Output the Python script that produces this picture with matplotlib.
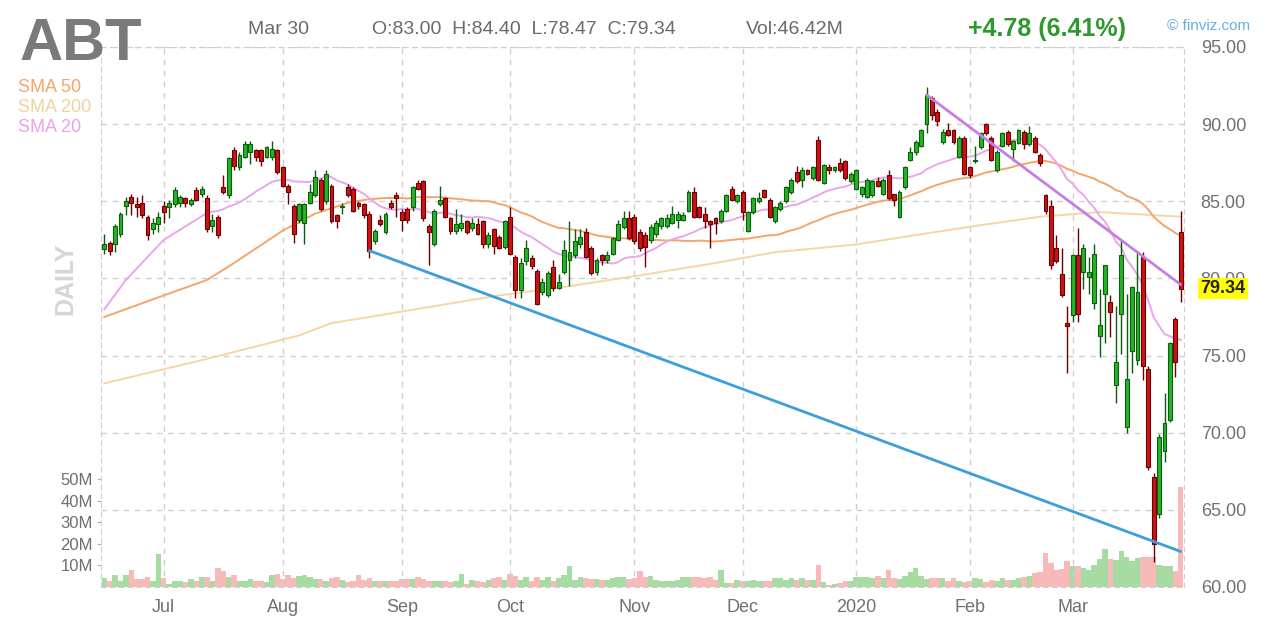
import numpy as np
import pandas as pd
import matplotlib
matplotlib.use('Agg')
import matplotlib.pyplot as plt
from matplotlib import font_manager

installed = {f.name for f in font_manager.fontManager.ttflist}
narrow = 'Liberation Sans Narrow' if 'Liberation Sans Narrow' in installed else 'Liberation Sans'
plt.rcParams['font.family'] = [narrow, 'DejaVu Sans']

# trading calendar Jun 14 2019 .. Mar 30 2020
holidays = ['2019-07-04', '2019-09-02', '2019-11-28', '2019-12-25',
            '2020-01-01', '2020-01-20', '2020-02-17']
dates = pd.bdate_range('2019-06-14', '2020-03-30', freq='C', holidays=holidays)

# daily OHLC
opens = [81.9, 82.3, 82.2, 82.9, 84.7, 85.3, 84.8, 84.9, 84.0, 83.2,
         83.5, 84.7, 84.6, 84.8, 84.9, 85.2, 84.8, 85.7, 85.5, 85.2,
         83.4, 84.0, 85.9, 85.4, 88.3, 87.2, 87.9, 88.2, 88.3, 88.3,
         87.9, 87.9, 88.3, 87.2, 86.0, 84.7, 83.8, 83.6, 84.9, 85.4,
         86.4, 85.0, 86.0, 84.1, 84.6, 85.9, 85.8, 84.9, 84.8, 84.2,
         82.4, 83.8, 83.0, 84.9, 85.4, 84.3, 84.5, 84.6, 86.2, 86.3,
         83.4, 82.2, 84.8, 85.2, 83.9, 83.1, 83.3, 83.7, 83.3, 83.5,
         83.7, 82.2, 83.2, 82.7, 82.05, 84.0, 81.4, 79.25, 81.1, 81.3,
         80.5, 79.1, 78.9, 80.75, 79.4, 80.4, 81.2, 81.5, 82.2, 83.0,
         82.0, 80.4, 81.5, 81.2, 81.6, 82.5, 83.35, 83.9, 84.0, 83.0,
         82.8, 82.5, 82.9, 83.4, 83.4, 83.6, 83.8, 83.8, 84.4, 85.6,
         84.6, 84.2, 83.7, 83.9, 83.7, 84.4, 85.8, 85.0, 85.6, 83.1,
         84.3, 85.0, 85.7, 85.1, 83.7, 84.5, 85.0, 85.6, 86.9, 86.4,
         87.0, 86.5, 88.97, 86.2, 87.2, 87.0, 87.5, 87.6, 86.3, 85.8,
         85.5, 85.3, 85.4, 86.3, 85.5, 86.7, 85.45, 84.0, 85.95, 87.7,
         88.2, 88.6, 90.0, 91.7, 90.8, 88.86, 89.6, 89.6, 87.9, 89.1,
         87.2, 87.6, 88.5, 90.0, 89.1, 87.0, 88.6, 89.5, 88.4, 88.8,
         89.5, 88.7, 89.1, 88.0, 85.4, 84.7, 82.0, 80.3, 77.1, 77.6,
         81.5, 80.4, 80.1, 78.4, 76.3, 79.0, 78.5, 73.1, 77.7, 70.4,
         75.3, 74.7, 81.4, 74.1, 67.1, 64.7, 68.8, 70.85, 77.4, 83.0]
highs = [82.9, 82.4, 83.5, 84.3, 85.3, 85.5, 85.3, 85.4, 84.1, 83.9,
         84.3, 85.0, 85.1, 85.9, 85.4, 85.3, 85.2, 85.9, 86.0, 85.4,
         84.2, 84.1, 86.7, 87.9, 88.5, 88.2, 88.9, 88.9, 88.4, 88.4,
         88.6, 88.9, 88.4, 87.3, 86.1, 84.8, 84.9, 84.9, 86.1, 87.0,
         86.5, 87.0, 86.1, 84.2, 84.9, 86.1, 85.9, 85.0, 84.9, 84.4,
         83.2, 84.1, 84.3, 85.1, 85.6, 84.5, 84.6, 86.0, 86.4, 86.4,
         83.5, 84.5, 86.0, 85.3, 84.0, 84.5, 84.2, 83.8, 83.9, 83.9,
         83.8, 83.0, 83.3, 82.8, 83.8, 84.65, 81.5, 81.3, 82.5, 81.5,
         80.6, 80.0, 80.5, 81.2, 80.3, 82.5, 83.7, 83.2, 83.2, 83.3,
         82.1, 81.3, 81.6, 81.8, 82.7, 83.8, 84.4, 84.4, 84.2, 83.2,
         83.0, 83.5, 83.8, 84.0, 84.2, 84.7, 84.4, 84.3, 85.7, 85.9,
         84.7, 84.6, 83.8, 84.0, 84.5, 85.5, 86.0, 85.5, 85.7, 84.4,
         85.3, 85.6, 85.8, 85.2, 84.7, 85.0, 86.0, 86.5, 87.3, 87.2,
         87.1, 87.3, 89.2, 87.4, 87.4, 87.3, 87.8, 87.7, 86.9, 87.1,
         86.0, 86.5, 86.4, 86.6, 86.5, 87.0, 85.5, 85.7, 87.3, 88.5,
         89.0, 89.7, 92.4, 91.8, 91.0, 89.7, 90.1, 89.7, 89.2, 89.2,
         87.3, 88.6, 89.5, 90.1, 89.2, 88.3, 89.5, 89.6, 89.0, 89.7,
         89.6, 89.9, 89.2, 88.1, 85.5, 85.1, 82.8, 82.0, 78.2, 81.6,
         83.3, 82.2, 81.4, 82.2, 79.3, 80.9, 78.9, 78.2, 82.5, 79.0,
         79.5, 81.8, 81.7, 74.3, 67.4, 69.9, 72.6, 75.9, 77.5, 84.4]
lows = [81.6, 81.5, 81.7, 82.7, 84.1, 84.1, 84.0, 83.9, 82.5, 82.9,
        83.0, 83.6, 83.9, 84.6, 84.6, 84.6, 84.7, 85.0, 85.3, 83.0,
        83.0, 82.6, 85.5, 85.2, 87.0, 87.0, 87.8, 87.4, 87.6, 87.3,
        87.8, 87.7, 86.8, 85.9, 84.8, 82.3, 83.6, 82.2, 84.8, 85.3,
        84.4, 84.8, 83.6, 83.3, 84.2, 85.3, 84.3, 84.5, 83.9, 81.3,
        82.2, 83.4, 82.9, 84.5, 84.0, 83.1, 83.6, 84.4, 85.7, 83.7,
        80.9, 82.1, 84.7, 83.9, 82.9, 82.9, 83.1, 82.9, 83.1, 82.8,
        82.0, 82.0, 81.6, 81.9, 81.9, 81.5, 78.7, 78.7, 80.9, 80.6,
        78.3, 78.9, 78.8, 79.2, 79.3, 80.3, 79.5, 81.3, 82.0, 81.3,
        80.2, 80.2, 80.9, 81.0, 81.5, 82.4, 83.2, 82.5, 82.2, 81.8,
        80.75, 82.3, 82.7, 83.2, 83.3, 83.5, 83.3, 83.7, 84.3, 83.9,
        83.9, 83.3, 82.0, 82.9, 83.6, 84.3, 85.0, 84.9, 83.8, 83.0,
        84.2, 84.9, 85.2, 83.9, 83.6, 84.4, 84.9, 85.5, 86.2, 85.9,
        86.7, 86.4, 86.3, 86.1, 86.8, 86.9, 86.9, 86.4, 86.2, 85.7,
        85.3, 85.2, 85.3, 85.9, 85.4, 85.1, 84.7, 83.9, 85.8, 87.6,
        88.0, 88.5, 89.4, 90.3, 89.9, 88.7, 89.2, 88.7, 87.8, 86.7,
        86.5, 87.5, 88.4, 89.3, 87.6, 86.9, 88.5, 88.6, 87.6, 88.7,
        88.4, 88.6, 88.1, 87.3, 84.2, 80.6, 81.0, 78.8, 73.9, 77.2,
        77.2, 79.3, 79.0, 78.0, 74.9, 75.8, 76.2, 71.9, 75.1, 70.0,
        73.9, 74.4, 73.4, 67.6, 61.6, 64.5, 68.1, 70.7, 73.6, 78.47]
closes = [82.2, 81.8, 83.4, 84.2, 85.0, 84.9, 84.6, 84.1, 82.8, 83.6,
          84.0, 84.3, 84.9, 85.7, 85.3, 84.9, 85.1, 85.1, 85.8, 83.2,
          83.8, 82.8, 85.6, 87.8, 87.3, 88.0, 88.7, 88.7, 87.9, 87.6,
          88.5, 88.4, 86.9, 86.0, 85.6, 82.9, 84.8, 84.8, 85.6, 86.6,
          84.5, 86.8, 83.7, 83.7, 84.7, 85.4, 84.4, 84.7, 84.1, 81.8,
          83.1, 83.5, 84.2, 84.6, 85.2, 83.8, 83.8, 85.9, 85.8, 83.9,
          83.0, 84.4, 85.1, 84.0, 83.1, 83.5, 83.6, 83.0, 83.6, 82.9,
          82.2, 82.8, 82.1, 82.0, 83.7, 81.6, 79.25, 81.0, 82.0, 80.8,
          78.35, 79.8, 80.35, 79.4, 79.8, 81.85, 81.7, 82.4, 82.7, 81.4,
          80.35, 81.2, 81.2, 81.5, 82.6, 83.5, 83.9, 82.6, 82.4, 81.95,
          82.05, 83.35, 83.6, 83.9, 83.9, 84.2, 84.2, 84.1, 85.6, 84.0,
          84.0, 83.7, 83.5, 83.6, 84.4, 85.4, 85.1, 85.4, 84.3, 84.3,
          85.2, 85.2, 85.3, 84.0, 84.65, 84.9, 85.95, 86.4, 86.3, 87.0,
          86.8, 87.25, 86.4, 87.35, 87.0, 87.2, 87.0, 86.5, 86.8, 87.0,
          85.95, 86.4, 86.3, 86.0, 86.4, 85.2, 85.1, 85.6, 87.25, 88.2,
          88.86, 89.6, 91.9, 90.6, 90.2, 89.5, 89.3, 88.86, 89.1, 86.8,
          86.7, 87.7, 89.4, 89.4, 87.7, 88.2, 89.4, 88.7, 88.9, 89.6,
          88.7, 89.4, 88.2, 87.45, 84.4, 80.85, 81.1, 78.9, 76.9, 81.5,
          77.7, 82.0, 80.4, 81.6, 77.0, 80.85, 77.8, 74.6, 81.5, 73.5,
          79.45, 79.1, 74.3, 67.8, 62.8, 69.7, 70.6, 75.8, 74.56, 79.34]
volume_m = [4.2, 2.6, 5.4, 2.6, 5.4, 8.0, 3.7, 3.7, 4.6, 2.6,
            15.5, 4.2, 1.5, 2.9, 2.9, 2.2, 3.9, 2.9, 4.6, 4.6,
            2.9, 8.8, 7.3, 4.6, 5.4, 2.9, 2.9, 3.9, 2.9, 2.6,
            2.2, 5.4, 6.2, 3.7, 5.4, 4.2, 5.0, 5.4, 4.6, 3.7,
            3.9, 2.9, 4.2, 4.6, 3.4, 2.2, 2.9, 5.4, 3.4, 4.2,
            2.9, 2.9, 2.9, 2.9, 2.9, 3.9, 3.9, 3.9, 4.6, 3.9,
            2.9, 2.9, 2.9, 2.9, 2.2, 2.9, 6.2, 1.2, 3.4, 2.9,
            2.2, 3.4, 4.2, 4.6, 3.4, 5.8, 5.2, 3.4, 4.6, 2.9,
            4.6, 3.4, 4.6, 2.9, 4.2, 5.4, 9.7, 3.4, 4.6, 4.2,
            3.7, 3.7, 3.4, 3.4, 4.2, 4.6, 4.6, 3.9, 4.2, 7.3,
            4.5, 5.0, 3.4, 3.0, 3.0, 3.0, 3.2, 4.5, 4.5, 4.5,
            4.5, 4.2, 4.5, 3.4, 8.1, 2.0, 1.8, 3.4, 2.9, 3.0,
            3.4, 3.0, 3.0, 3.0, 4.2, 4.2, 3.4, 4.0, 3.4, 4.0,
            3.4, 3.4, 10.4, 2.5, 0.8, 1.5, 2.0, 3.0, 3.0, 4.5,
            4.5, 4.8, 4.2, 5.0, 4.0, 8.1, 4.0, 3.8, 5.0, 6.8,
            8.8, 5.0, 3.6, 4.0, 4.2, 4.2, 3.0, 4.0, 3.0, 2.5,
            3.0, 4.0, 3.8, 2.4, 3.4, 3.0, 4.0, 3.3, 3.3, 4.3,
            4.5, 5.2, 6.5, 7.0, 15.8, 11.0, 8.1, 8.5, 12.0, 9.5,
            9.5, 9.0, 8.0, 10.4, 13.0, 17.4, 12.8, 12.3, 16.6, 14.0,
            12.0, 13.5, 14.0, 14.0, 14.0, 10.0, 9.5, 9.8, 7.3, 46.42]

# moving averages before enough closes exist on the chart
sma20_early_dates = ['2019-06-14', '2019-06-20', '2019-07-01']
sma20_early_vals = [78.0, 79.9, 82.5]
sma50_early_dates = ['2019-06-14', '2019-07-01', '2019-07-12', '2019-07-19', '2019-08-01',
                     '2019-08-09', '2019-08-19']
sma50_early_vals = [77.5, 78.9, 79.9, 81.0, 83.1, 84.2, 84.9]
sma200_dates = ['2019-06-14', '2019-07-11', '2019-08-06', '2019-08-14', '2019-08-23',
                '2019-09-11', '2019-09-27', '2019-10-16', '2019-11-04', '2019-11-22',
                '2019-12-10', '2020-01-02', '2020-01-15', '2020-02-03', '2020-02-21',
                '2020-03-09', '2020-03-30']
sma200_vals = [73.2, 74.7, 76.3, 77.1, 77.5, 78.2, 78.9, 79.5, 80.2, 81.0,
               81.7, 82.2, 82.7, 83.35, 84.0, 84.3, 84.0]

# drawn trend lines (date, price)
blue_line = [('2019-08-23', 81.8), ('2020-03-30', 62.3)]
purple_line = [('2020-01-22', 91.9), ('2020-03-30', 79.6)]

price_ticks = [60, 65, 70, 75, 80, 85, 90, 95]
vol_ticks = [10, 20, 30, 40, 50]

# ---------------------------------------------------------------
pos = {d: i for i, d in enumerate(dates)}


def idx(d):
    return pos[pd.Timestamp(d)]


x = np.arange(len(dates))
o = np.array(opens)
h = np.array(highs)
l = np.array(lows)
c = np.array(closes)
up = c >= o
close_s = pd.Series(closes)

W, H = 1274, 631
fig = plt.figure(figsize=(W / 100, H / 100), dpi=100)
rect = [101 / W, 1 - 587 / H, 1083 / W, 540 / H]

grid_c = '#cfcfcf'
dash = (0, (4, 4))

# volume panel underneath
axv = fig.add_axes(rect, zorder=1)
axv.bar(x, volume_m, width=1.0, color=np.where(up, '#a6dba2', '#f8b9b9'), linewidth=0)
axv.set_ylim(0, 250)
axv.set_xlim(-0.6, 199.6)
axv.set_yticks(vol_ticks)
axv.set_yticklabels([f'{v}M' for v in vol_ticks])
axv.tick_params(axis='y', length=3, color='#b0b0b0', labelsize=12, labelcolor='#6e6e6e', pad=3)
axv.set_xticks([])
for s in axv.spines.values():
    s.set_visible(False)

# price panel
ax = fig.add_axes(rect, zorder=2)
ax.patch.set_alpha(0)
ax.set_xlim(-0.6, 199.6)
ax.set_ylim(60, 95)

month_starts = [dates.get_loc(dates[dates >= pd.Timestamp(m)][0]) for m in
                ['2019-07-01', '2019-08-01', '2019-09-01', '2019-10-01', '2019-11-01',
                 '2019-12-01', '2020-01-01', '2020-02-01', '2020-03-01']]
month_labels = ['Jul', 'Aug', 'Sep', 'Oct', 'Nov', 'Dec', '2020', 'Feb', 'Mar']
ax.set_xticks(month_starts)
ax.set_xticklabels(month_labels)
ax.set_yticks(price_ticks)
ax.set_yticklabels([f'{p:.2f}' for p in price_ticks])
ax.yaxis.tick_right()
ax.tick_params(axis='both', length=0, labelsize=13, labelcolor='#707070')
ax.tick_params(axis='x', pad=9)
ax.tick_params(axis='y', pad=12)
ax.grid(True, color=grid_c, linestyle=dash, linewidth=1)
for s in ax.spines.values():
    s.set_color(grid_c)
    s.set_linestyle(dash)
ax.set_axisbelow(True)

# moving averages: read values where the window is not yet full, rolling mean after
sma20 = close_s.rolling(20).mean()
sma50 = close_s.rolling(50).mean()
sma20_x = [idx(d) for d in sma20_early_dates] + list(x[19:])
sma20_y = sma20_early_vals + list(sma20.values[19:])
sma50_x = [idx(d) for d in sma50_early_dates] + list(x[49:])
sma50_y = sma50_early_vals + list(sma50.values[49:])

ax.plot([idx(d) for d in sma200_dates], sma200_vals, color='#f6d6a6', linewidth=1.4, zorder=2)
ax.plot(sma50_x, sma50_y, color='#f5a56a', linewidth=1.4, zorder=2)
ax.plot(sma20_x, sma20_y, color='#eaa6ea', linewidth=1.4, zorder=2)

# candles
edge = np.where(up, '#0b5e0b', '#6a0000')
fill = np.where(up, '#27b327', '#cc1414')
ax.vlines(x, l, h, colors=edge, linewidth=1, zorder=3)
body = np.maximum(np.abs(c - o), 0.06)
ax.bar(x, body, bottom=np.minimum(o, c), width=0.72, color=fill,
       edgecolor=edge, linewidth=0.8, zorder=4)

# trend lines
for pts, col in [(blue_line, '#3c9fdc'), (purple_line, '#c77ee0')]:
    ax.plot([idx(p[0]) for p in pts], [p[1] for p in pts], color=col,
            linewidth=2, zorder=5, solid_capstyle='round')

# last price tag
ax.text(1.015, c[-1], f'{c[-1]:.2f}', transform=ax.get_yaxis_transform(),
        ha='left', va='center', fontsize=13, fontweight='bold', color='#222222',
        bbox=dict(boxstyle='square,pad=0.12', facecolor='#ffff00', edgecolor='none'))

# header
fig.text(20 / W, 1 - 45 / H, 'ABT', fontsize=43, fontweight='bold', color='#7a7a7a',
         ha='left', va='center')
fig.text(248 / W, 1 - 29 / H, 'Mar 30', fontsize=14, color='#6a6a6a', va='center')
fig.text(372 / W, 1 - 29 / H, 'O:83.00  H:84.40  L:78.47  C:79.34', fontsize=14,
         color='#6a6a6a', va='center')
fig.text(746 / W, 1 - 29 / H, 'Vol:46.42M', fontsize=14, color='#6a6a6a', va='center')
fig.text(968 / W, 1 - 29 / H, '+4.78 (6.41%)', fontsize=18, color='#2e9a2e',
         fontweight='bold', va='center')
fig.text(1250 / W, 1 - 26 / H, '\u00a9 finviz.com', fontsize=11, color='#6aaee0',
         ha='right', va='center')

for label, col, yy in [('SMA 50', '#f5a56a', 87), ('SMA 200', '#f3d19c', 107),
                       ('SMA 20', '#e8a3e8', 127)]:
    fig.text(18 / W, 1 - yy / H, label, fontsize=13, color=col, va='center')

fig.text(65 / W, 1 - 279 / H, 'DAILY', rotation=90, fontsize=18, fontweight='bold',
         color='#d6d6d6', ha='center', va='center')

fig.savefig('out.png', dpi=100)
